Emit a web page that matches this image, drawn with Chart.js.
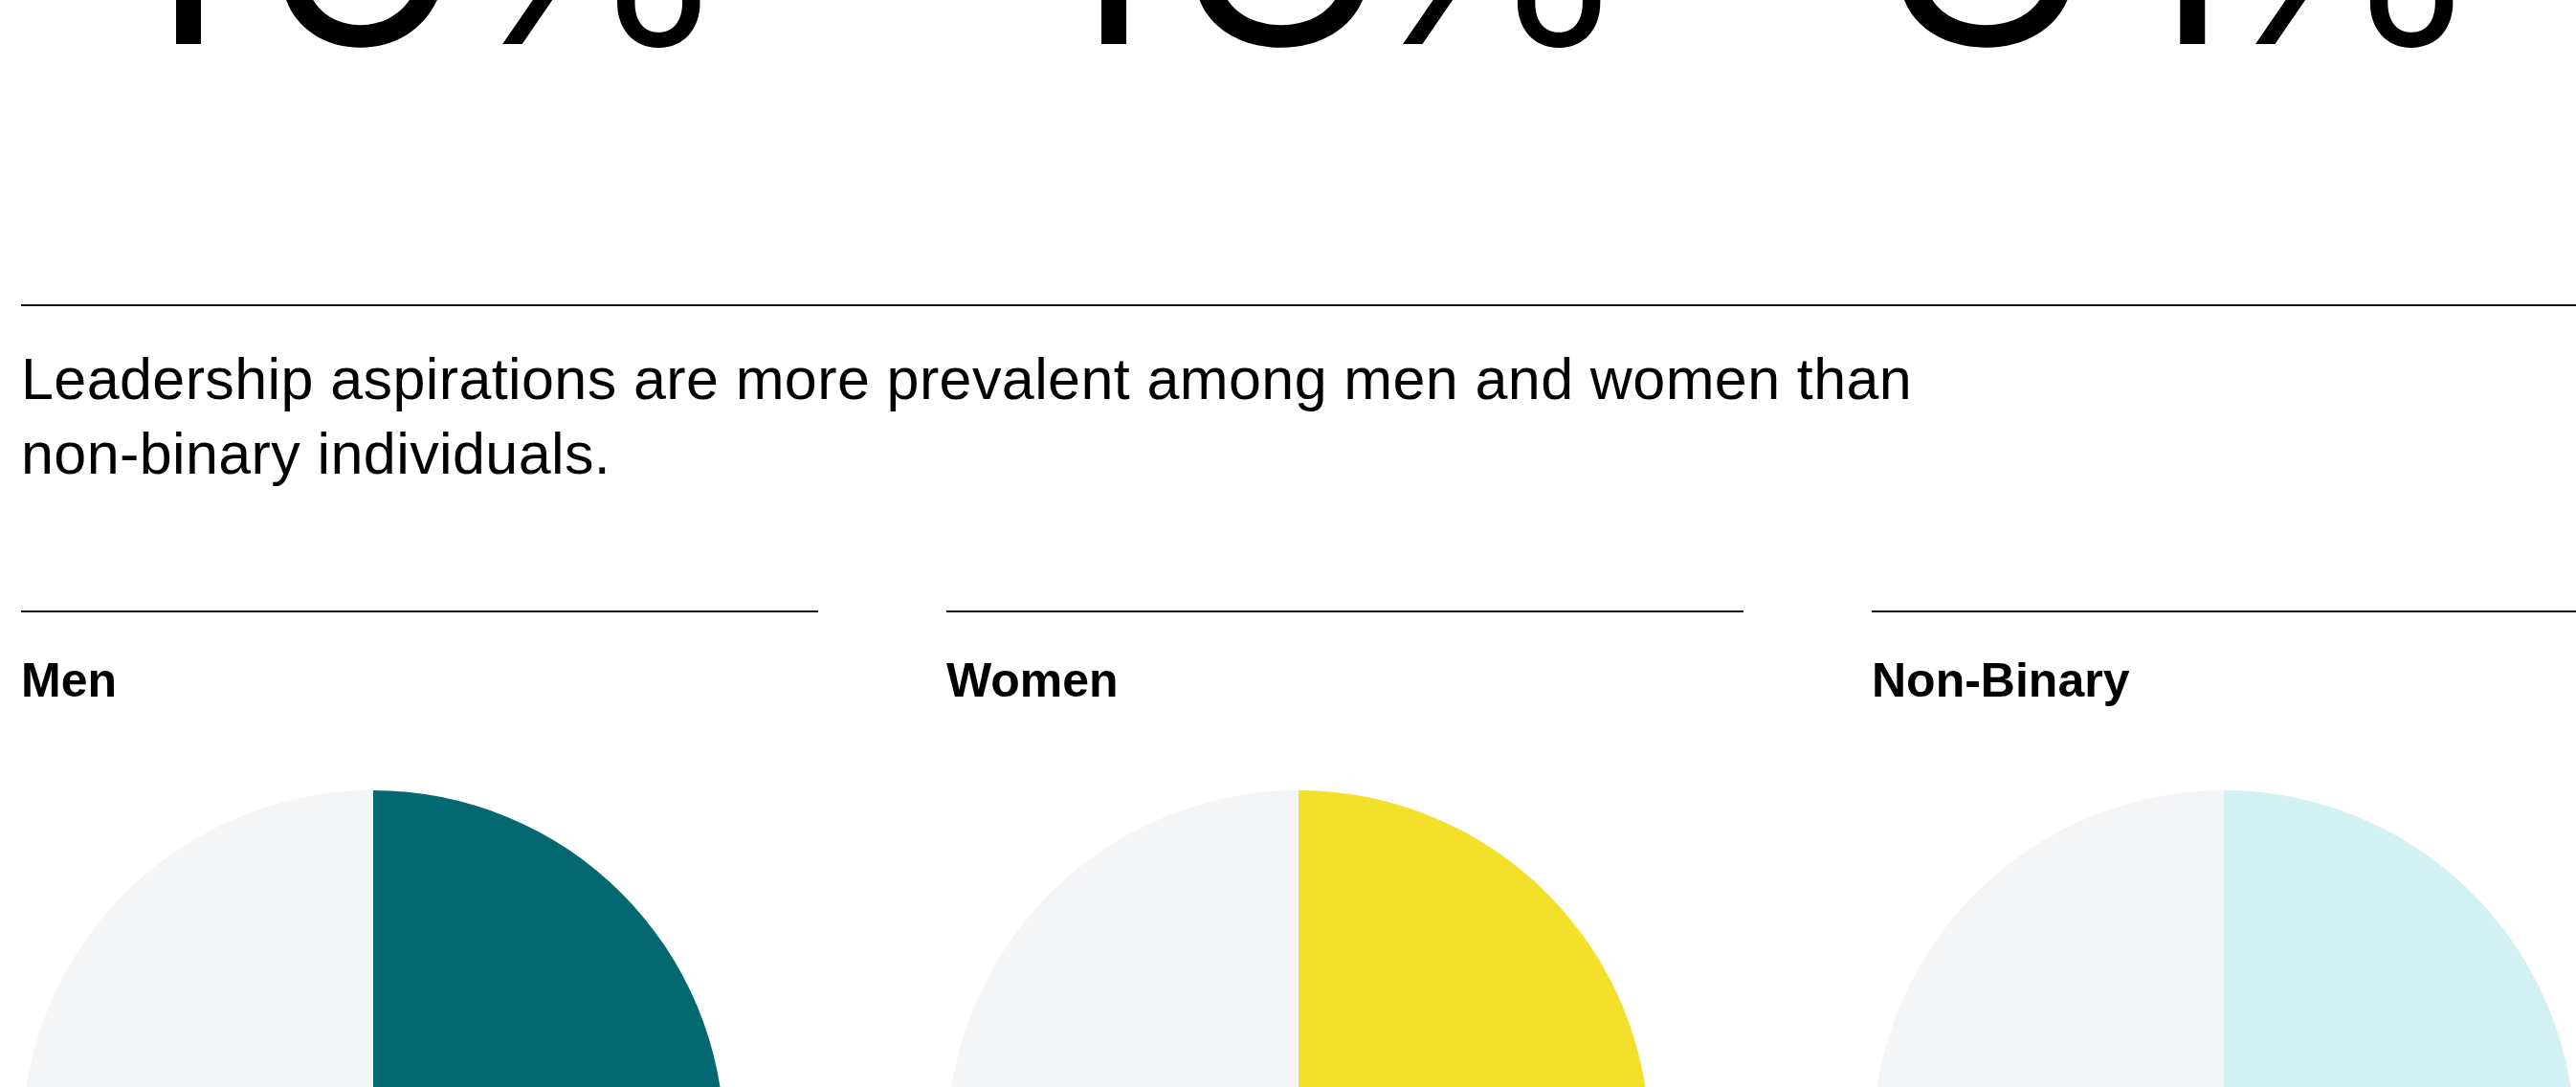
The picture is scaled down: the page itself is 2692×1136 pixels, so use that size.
<!DOCTYPE html>
<html>
<head>
<meta charset="utf-8">
<script src="https://cdn.jsdelivr.net/npm/chart.js@4.4.1/dist/chart.umd.min.js"></script>
<style>
  html, body { margin:0; padding:0; background:#ffffff; }
  body { width:2692px; height:1136px; overflow:hidden; position:relative; font-family:"Liberation Sans", Arial, Helvetica, sans-serif; color:#000; }
  .big { position:absolute; top:-282px; font-family:Inter, Roboto, sans-serif; font-weight:300; font-size:380px; line-height:380px; white-space:nowrap; }
  .big .pct { font-size:320px; letter-spacing:0; }
  .rule { position:absolute; height:2px; background:#111; }
  .title { position:absolute; left:22px; top:357px; font-size:61px; line-height:78px; letter-spacing:0.4px; white-space:nowrap; }
  .label { position:absolute; top:686px; font-size:50px; line-height:50px; font-weight:bold; white-space:nowrap; }
  .pie { position:absolute; top:826px; width:734px; height:734px; }
</style>
</head>
<body>
<div id="root"></div>
<script>
// ---- data ----
const headlineNumbers = ["15", "13", "31"];
const groups = ["Men", "Women", "Non-Binary"];
const aspiringShare = [62, 57, 44];           // % with leadership aspirations (visible part only)
const sliceLabels = ["Aspire to lead", "Other"];
const titleLines = ["Leadership aspirations are more prevalent among men and women than", "non-binary individuals."];

// ---- layout / style ----
const columnStarts = [22, 989, 1956];
const numberLeft = [75, 75, 4];
const numberSpacing = [18, 10, 1];
const pctShift = [-42, -57, -44];
const groupColors = ["#046872", "#F3E02B", "#D3F0F2"];
const restColor = "#F4F5F7";

const root = document.getElementById("root");

// big numbers (cropped at top)
headlineNumbers.forEach((n, i) => {
  const d = document.createElement("div");
  d.className = "big";
  d.style.left = (columnStarts[i] + numberLeft[i]) + "px";
  const num = document.createElement("span");
  num.textContent = n;
  num.style.letterSpacing = numberSpacing[i] + "px";
  const pct = document.createElement("span");
  pct.className = "pct";
  pct.style.marginLeft = pctShift[i] + "px";
  pct.textContent = "%";
  d.appendChild(num);
  d.appendChild(pct);
  root.appendChild(d);
});

// top rule
const r0 = document.createElement("div");
r0.className = "rule";
r0.style.left = "22px"; r0.style.top = "318px"; r0.style.width = "2670px";
root.appendChild(r0);

// title
const t = document.createElement("div");
t.className = "title";
titleLines.forEach((line, k) => {
  if (k) t.appendChild(document.createElement("br"));
  t.appendChild(document.createTextNode(line));
});
root.appendChild(t);

// columns
groups.forEach((g, i) => {
  const x = columnStarts[i];
  const r = document.createElement("div");
  r.className = "rule";
  r.style.left = x + "px"; r.style.top = "638px"; r.style.width = "833px";
  root.appendChild(r);

  const l = document.createElement("div");
  l.className = "label";
  l.style.left = x + "px";
  l.textContent = g;
  root.appendChild(l);

  const box = document.createElement("div");
  box.className = "pie";
  box.style.left = (x + 1) + "px";
  const c = document.createElement("canvas");
  box.appendChild(c);
  root.appendChild(box);

  new Chart(c, {
    type: "pie",
    data: {
      labels: sliceLabels,
      datasets: [{
        data: [aspiringShare[i], 100 - aspiringShare[i]],
        backgroundColor: [groupColors[i], restColor],
        borderWidth: 0
      }]
    },
    options: {
      responsive: true,
      maintainAspectRatio: false,
      animation: false,
      layout: { padding: 0 },
      plugins: { legend: { display: false }, tooltip: { enabled: false } }
    }
  });
});
</script>
</body>
</html>
